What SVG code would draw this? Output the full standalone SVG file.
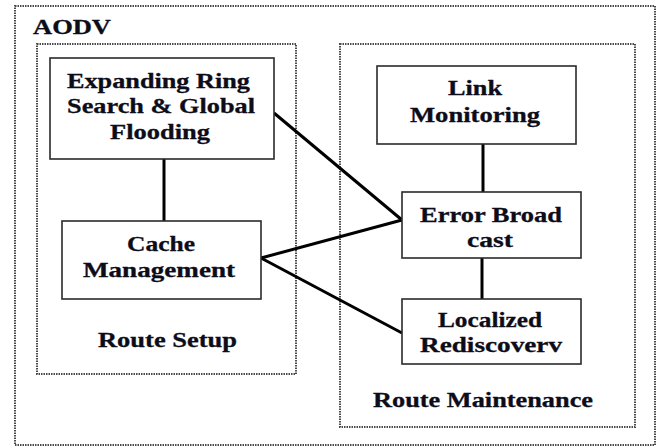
<svg xmlns="http://www.w3.org/2000/svg" width="663" height="447" viewBox="0 0 663 447">
  <style>
    .frame { fill: none; stroke: #4a4a4a; stroke-width: 2; stroke-dasharray: 1.5 1; }
    .box { fill: #ffffff; stroke: #2a2a2a; stroke-width: 1.6; }
    .link { stroke: #000000; stroke-width: 3; fill: none; stroke-linecap: butt; }
    .lbl { font-weight: 700; font-size: 21px; fill: #0d0d1a; text-anchor: middle; stroke: #0d0d1a; stroke-width: 0.3; }
    .title { text-anchor: start; }
  </style>
  <rect width="663" height="447" fill="#ffffff"/>

  <g font-family="Liberation Serif, Times New Roman, serif">
  <!-- outer protocol frame -->
  <g id="aodv">
    <rect class="frame" x="15" y="6" width="640" height="439"/>
    <text class="lbl title" x="33" y="34" textLength="78" lengthAdjust="spacingAndGlyphs">AODV</text>
  </g>

  <!-- phase groups -->
  <g id="route-setup">
    <rect class="frame" x="37" y="44" width="259" height="330"/>
    <text class="lbl" x="167.5" y="347" textLength="139" lengthAdjust="spacingAndGlyphs">Route Setup</text>
  </g>
  <g id="route-maintenance">
    <rect class="frame" x="340" y="44" width="295" height="383"/>
    <text class="lbl" x="483" y="407" textLength="220" lengthAdjust="spacingAndGlyphs">Route Maintenance</text>
  </g>

  <!-- connectors -->
  <g id="connectors">
    <line class="link" x1="164" y1="159" x2="164" y2="221"/>
    <line class="link" x1="274" y1="113" x2="402" y2="220"/>
    <line class="link" x1="261" y1="258" x2="402" y2="220"/>
    <line class="link" x1="261" y1="258" x2="402" y2="333"/>
    <line class="link" x1="483" y1="144" x2="483" y2="192"/>
    <line class="link" x1="482" y1="258" x2="482" y2="299"/>
  </g>

  <!-- nodes -->
  <g id="expanding-ring">
    <rect class="box" x="50" y="58" width="224" height="101"/>
    <text class="lbl" x="158.5" y="88" textLength="183" lengthAdjust="spacingAndGlyphs">Expanding Ring</text>
    <text class="lbl" x="161" y="113" textLength="188" lengthAdjust="spacingAndGlyphs">Search &amp; Global</text>
    <text class="lbl" x="160" y="139" textLength="100" lengthAdjust="spacingAndGlyphs">Flooding</text>
  </g>
  <g id="cache-management">
    <rect class="box" x="62" y="221" width="199" height="78"/>
    <text class="lbl" x="161" y="251" textLength="68" lengthAdjust="spacingAndGlyphs">Cache</text>
    <text class="lbl" x="159" y="277" textLength="152" lengthAdjust="spacingAndGlyphs">Management</text>
  </g>
  <g id="link-monitoring">
    <rect class="box" x="377" y="66" width="199" height="78"/>
    <text class="lbl" x="475" y="95" textLength="54" lengthAdjust="spacingAndGlyphs">Link</text>
    <text class="lbl" x="475" y="122" textLength="130" lengthAdjust="spacingAndGlyphs">Monitoring</text>
  </g>
  <g id="error-broadcast">
    <rect class="box" x="402" y="192" width="179" height="66"/>
    <text class="lbl" x="491" y="222" textLength="142" lengthAdjust="spacingAndGlyphs">Error Broad</text>
    <text class="lbl" x="490" y="247" textLength="46" lengthAdjust="spacingAndGlyphs">cast</text>
  </g>
  <g id="localized-rediscovery">
    <rect class="box" x="402" y="299" width="179" height="65"/>
    <text class="lbl" x="490" y="327" textLength="104" lengthAdjust="spacingAndGlyphs">Localized</text>
    <text class="lbl" x="491" y="352" textLength="142" lengthAdjust="spacingAndGlyphs">Rediscoverv</text>
  </g>
  </g>
</svg>
